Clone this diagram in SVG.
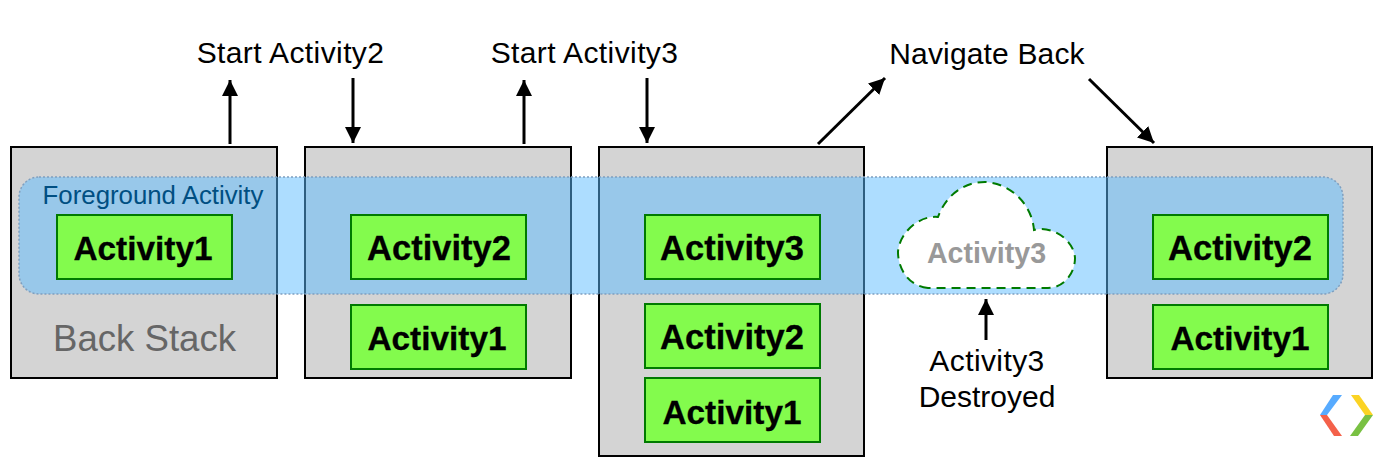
<svg xmlns="http://www.w3.org/2000/svg" width="1389" height="465" viewBox="0 0 1389 465">
<style>
text{font-family:"Liberation Sans",Arial,sans-serif}
.stack{fill:#d4d4d4;stroke:#000;stroke-width:2}
.act{fill:#83fb4d;stroke:#007a00;stroke-width:2}
.an{font-size:34.5px;font-weight:700;fill:#000;text-anchor:middle;stroke:#000;stroke-width:.3}
.one{font-size:33.4px}
.lb{font-size:30px;fill:#000;text-anchor:middle}
.cn{stroke:#000;stroke-width:3;fill:none;marker-end:url(#ah)}
</style>
<defs>
<marker id="ah" markerUnits="userSpaceOnUse" markerWidth="16" markerHeight="16" refX="14" refY="7" orient="auto" viewBox="0 0 14 14"><path d="M0 0L14 7L0 14z" fill="#000"/></marker>
</defs>
<rect width="1389" height="465" fill="#fff"/>
<g id="stack1"><rect class="stack" x="11" y="147" width="266" height="231"/></g>
<g id="stack2"><rect class="stack" x="305" y="147" width="266" height="231"/></g>
<g id="stack3"><rect class="stack" x="599" y="147" width="265" height="309"/></g>
<g id="stack4"><rect class="stack" x="1107" y="147" width="265" height="231"/></g>
<g id="foreground-band">
<rect x="19" y="177" width="1324" height="117" rx="20" fill="#5bbbff" fill-opacity=".5" stroke="#7f9fbf" stroke-width="1.5" stroke-dasharray="2 2"/>
<text x="153" y="204" font-size="25.8" fill="#004f82" text-anchor="middle">Foreground Activity</text>
</g>
<g id="activity1-a"><rect class="act" x="57" y="215" width="175" height="64"/><text class="an one" x="143" y="260">Activity1</text></g>
<g id="activity2-b"><rect class="act" x="351" y="215" width="175" height="64"/><text class="an" x="439" y="260">Activity2</text></g>
<g id="activity1-b"><rect class="act" x="351" y="305" width="175" height="64"/><text class="an one" x="437" y="350">Activity1</text></g>
<g id="activity3-c"><rect class="act" x="645" y="215" width="175" height="64"/><text class="an" x="732" y="260">Activity3</text></g>
<g id="activity2-c"><rect class="act" x="645" y="304" width="175" height="64"/><text class="an" x="732" y="349">Activity2</text></g>
<g id="activity1-c"><rect class="act" x="645" y="378" width="175" height="64"/><text class="an one" x="732" y="424">Activity1</text></g>
<g id="activity2-d"><rect class="act" x="1153" y="215" width="175" height="64"/><text class="an" x="1240" y="260">Activity2</text></g>
<g id="activity1-d"><rect class="act" x="1153" y="305" width="175" height="64"/><text class="an one" x="1240" y="350">Activity1</text></g>
<g id="destroyed-cloud">
<path d="M928 288C908 286 898 268 898 252C899 234 918 215 938 217C946 195 964 182 985 182C1010 183 1032 204 1034 230C1052 225 1074 240 1075 258C1075 274 1063 288 1048 288Z" fill="#fff" stroke="#007a00" stroke-width="2" stroke-dasharray="9 6"/>
<text x="986.500" y="263" font-size="28.6" font-weight="700" fill="#999" text-anchor="middle">Activity3</text>
</g>
<g id="back-stack-label"><text x="144.500" y="351" font-size="36.600" fill="#666" text-anchor="middle">Back Stack</text></g>
<g id="labels">
<text class="lb" x="290.500" y="63" letter-spacing=".4">Start Activity2</text>
<text class="lb" x="584.500" y="63" letter-spacing=".4">Start Activity3</text>
<text class="lb" x="987" y="64" letter-spacing=".15">Navigate Back</text>
<text class="lb" x="987" y="371" letter-spacing=".4">Activity3</text>
<text class="lb" x="987" y="407">Destroyed</text>
</g>
<g id="connectors">
<path class="cn" d="M230 144V80"/>
<path class="cn" d="M353 78V143"/>
<path class="cn" d="M524 144V80"/>
<path class="cn" d="M647 78V143"/>
<path class="cn" d="M818 144L885 78"/>
<path class="cn" d="M1089 79L1154 143"/>
<path class="cn" d="M986 340V299"/>
</g>
<g id="logo">
<polygon points="1333,395 1342,395 1327,415 1320,415" fill="#57abff"/>
<polygon points="1320,415 1327,415 1342,436 1334,436" fill="#f4614a"/>
<polygon points="1351,395 1359,395 1373,415 1365,415" fill="#fbd324"/>
<polygon points="1365,415 1373,415 1358,436 1350,436" fill="#79c143"/>
</g>
</svg>
